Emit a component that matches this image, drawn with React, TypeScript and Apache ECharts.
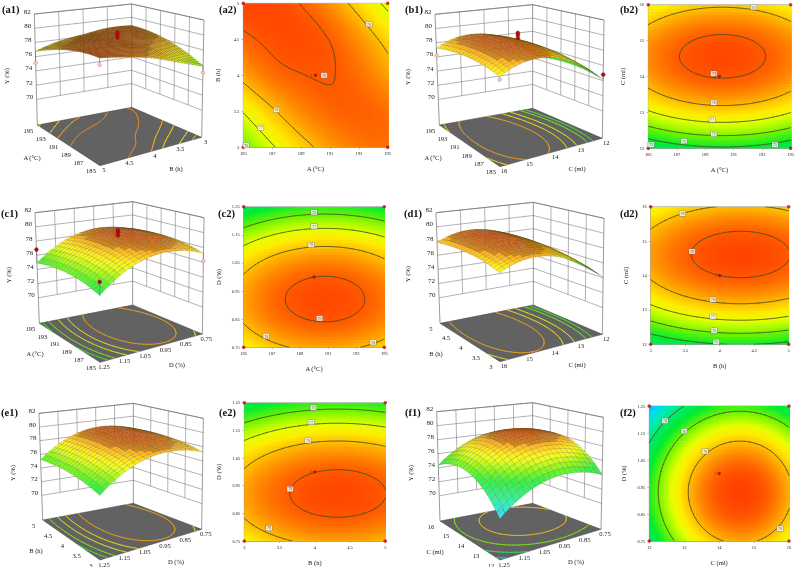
import React, { useEffect, useRef } from "react";
import * as echarts from "echarts";

const SERIF = "Liberation Serif";

const A_TICKS = [185, 187, 189, 191, 193, 195];
const B_TICKS = [3, 3.5, 4, 4.5, 5];
const C_TICKS = [12, 13, 14, 15, 16];
const D_TICKS = [0.75, 0.85, 0.95, 1.05, 1.15, 1.25];
const Z_TICKS = [70, 72, 74, 76, 78, 80, 82];

// Y (%) read at each tick crossing: one row per y-axis tick, one column per x-axis tick
const Y_A_B = [
  [75.85, 76.9, 77.7, 78.3, 78.65, 78.75],
  [77.05, 77.9, 78.5, 78.85, 78.93, 78.8],
  [78.2, 78.75, 78.98, 79.02, 78.8, 78.3],
  [78.87, 79.12, 79.2, 78.98, 78.45, 77.75],
  [79.3, 79.25, 78.97, 78.45, 77.7, 76.75],
];
const Y_A_C = [
  [74.15, 74.6, 74.84, 74.86, 74.67, 74.26],
  [76.9, 77.35, 77.59, 77.61, 77.42, 77.01],
  [78.31, 78.76, 79.0, 79.02, 78.83, 78.42],
  [78.39, 78.84, 79.08, 79.1, 78.91, 78.5],
  [77.14, 77.59, 77.83, 77.85, 77.66, 77.25],
];
const Y_A_D = [
  [77.22, 77.77, 78.09, 78.18, 78.04, 77.67],
  [78.09, 78.64, 78.96, 79.05, 78.91, 78.54],
  [78.24, 78.79, 79.11, 79.2, 79.06, 78.69],
  [77.69, 78.24, 78.56, 78.65, 78.51, 78.14],
  [76.43, 76.98, 77.3, 77.39, 77.25, 76.88],
  [74.45, 75.0, 75.32, 75.41, 75.27, 74.9],
];
const Y_B_C = [
  [74.07, 74.66, 74.97, 75.0, 74.75],
  [76.71, 77.3, 77.61, 77.64, 77.39],
  [78.1, 78.69, 79.0, 79.03, 78.78],
  [78.24, 78.83, 79.14, 79.17, 78.92],
  [77.12, 77.71, 78.02, 78.05, 77.8],
];
const Y_B_D = [
  [77.25, 77.85, 78.17, 78.21, 77.98],
  [78.1, 78.7, 79.02, 79.06, 78.83],
  [78.25, 78.85, 79.17, 79.21, 78.98],
  [77.71, 78.31, 78.63, 78.67, 78.44],
  [76.46, 77.06, 77.38, 77.42, 77.19],
  [74.51, 75.11, 75.43, 75.47, 75.24],
];
const Y_C_D = [
  [74.04, 76.59, 77.92, 78.04, 76.95],
  [74.99, 77.54, 78.87, 78.99, 77.9],
  [75.22, 77.77, 79.1, 79.22, 78.13],
  [74.7, 77.25, 78.58, 78.7, 77.61],
  [73.45, 76.0, 77.33, 77.45, 76.36],
  [71.46, 74.01, 75.34, 75.46, 74.37],
];

// contour levels on the 3D floors
const FLOOR_A_B = [78.8, 78.2, 77.7, 76.9, 76.3];
const FLOOR_A_C = [78.4, 77.6, 76.9, 75.9, 75.3];
const FLOOR_A_D = [78.4, 77.6, 76.9, 76, 75.3];
const FLOOR_B_C = [78.4, 77.6, 76.9, 75.9, 75.3];
const FLOOR_B_D = [78.4, 77.6, 76.9, 76, 75.3];
const FLOOR_C_D = [78, 76, 74, 72.2];

// contour labels: [x, y, level]
const LABELS_A_B = [[190.6, 4, 79], [187.3, 3.52, 78], [193.7, 4.71, 78], [186.2, 3.27, 77], [185.2, 3.03, 76]];
const LABELS_A_C = [[189.6, 14.08, 79], [189.6, 13.27, 78], [192.4, 15.93, 78], [189.5, 12.8, 77], [189.6, 12.4, 76], [187.5, 12.2, 75], [193.9, 12.1, 75], [185.2, 12.1, 75]];
const LABELS_A_D = [[190, 1.23, 76], [190, 1.18, 77], [189.8, 1.114, 78], [190.4, 0.853, 79], [186.6, 0.79, 78], [194.2, 0.768, 78]];
const LABELS_B_C = [[3.46, 15.8, 78], [3.6, 14.7, 79], [3.9, 13.3, 78], [3.9, 12.8, 77], [3.92, 12.4, 76], [3.95, 12.07, 75]];
const LABELS_B_D = [[3.98, 1.232, 76], [3.95, 1.18, 77], [3.9, 1.113, 78], [3.65, 0.938, 79], [3.35, 0.797, 78]];
const LABELS_C_D = [[12.45, 1.195, 74], [13, 1.157, 76], [13.6, 1.082, 78], [15.74, 0.796, 78]];

// design points seen on the 3D plots: [x, y, z, hollow]
const POINTS_A_B = [[195, 5, 75.1, 1], [185, 5, 78.5, 1], [185, 3, 75.0, 1], [190, 4, 79.4, 0], [190, 4, 79.8, 0], [190, 4, 80.1, 0]];
const POINTS_A_C = [[195, 16, 76.2, 1], [185, 16, 76.8, 1], [185, 12, 74.8, 0], [190, 14, 79.4, 0], [190, 14, 79.8, 0], [190, 14, 80.1, 0]];
const POINTS_A_D = [[195, 1.25, 76.8, 0], [185, 1.25, 76.1, 0], [185, 0.75, 76.2, 1], [190, 1, 79.4, 0], [190, 1, 79.8, 0], [190, 1, 80.1, 0]];

const PANELS: any[] = [
  {
    id: "a", xName: "A (°C)", yName: "B (h)", xTicks: A_TICKS, yTicks: B_TICKS, rows: Y_A_B, levels: [79, 78, 77, 76], floorLevels: FLOOR_A_B, labels: LABELS_A_B, center: [190, 4], points: POINTS_A_B, mesh: 30,
    rect: [243.3, 3.3, 144.4, 144],
    box: { ox: 0, oy: 0, L: [112, 375], F: [300, 497], R: [605, 412], B: [395, 322], TL: [103, 42], TB: [395, 12], TR: [612, 60] },
    titles: { x: [32, 157], y: [176, 168], z: [6, 76], l3: [2, 9], l2: [219, 9] },
  },
  {
    id: "b", xName: "A (°C)", yName: "C (ml)", xTicks: A_TICKS, yTicks: C_TICKS, rows: Y_A_C, levels: [79, 78, 77, 76, 75], floorLevels: FLOOR_A_C, labels: LABELS_A_C, center: [190, 14], points: POINTS_A_C, mesh: 20,
    rect: [648.3, 4.7, 143.7, 143.6],
    box: { ox: 400, oy: 0, L: [118, 375], F: [300, 500], R: [607, 415], B: [398, 325], TL: [105, 43], TB: [398, 14], TR: [612, 60] },
    titles: { x: [433, 157], y: [577, 168], z: [407, 77], l3: [405, 9], l2: [620, 9] },
  },
  {
    id: "c", xName: "A (°C)", yName: "D (%)", xTicks: A_TICKS, yTicks: D_TICKS, rows: Y_A_D, levels: [79, 78, 77, 76], floorLevels: FLOOR_A_D, labels: LABELS_A_D, center: [190, 1], points: POINTS_A_D, mesh: 20,
    rect: [243.7, 206.7, 140.6, 140.6],
    box: { ox: 0, oy: 190, L: [118, 400], F: [300, 517], R: [607, 432], B: [398, 345], TL: [105, 68], TB: [398, 35], TR: [612, 83] },
    titles: { x: [35, 353], y: [177, 364], z: [8, 275], l3: [1, 213], l2: [218, 213] },
  },
  {
    id: "d", xName: "B (h)", yName: "C (ml)", xTicks: B_TICKS, yTicks: C_TICKS, rows: Y_B_C, levels: [79, 78, 77, 76, 75], floorLevels: FLOOR_B_C, labels: LABELS_B_C, center: [4, 14], points: [], mesh: 20,
    rect: [650.7, 206.7, 138, 137.6],
    box: { ox: 400, oy: 190, L: [120, 400], F: [300, 515], R: [607, 433], B: [400, 345], TL: [108, 68], TB: [400, 37], TR: [612, 85] },
    titles: { x: [436, 353], y: [577, 364], z: [407, 274], l3: [404, 213], l2: [620, 213] },
  },
  {
    id: "e", xName: "B (h)", yName: "D (%)", xTicks: B_TICKS, yTicks: D_TICKS, rows: Y_B_D, levels: [79, 78, 77, 76], floorLevels: FLOOR_B_D, labels: LABELS_B_D, center: [4, 1], points: [], mesh: 20,
    rect: [244.3, 402.7, 141, 140.6],
    box: { ox: 0, oy: 375, L: [128, 435], F: [300, 555], R: [605, 463], B: [400, 385], TL: [117, 115], TB: [400, 85], TR: [610, 130] },
    titles: { x: [36, 550], y: [176, 561], z: [12, 473], l3: [1, 412], l2: [219, 412] },
  },
  {
    id: "f", xName: "C (ml)", yName: "D (%)", xTicks: C_TICKS, yTicks: D_TICKS, rows: Y_C_D, levels: [78, 76, 74], floorLevels: FLOOR_C_D, labels: LABELS_C_D, center: [14, 1], points: [], mesh: 20,
    rect: [649.3, 406, 139.7, 139],
    box: { ox: 400, oy: 375, L: [120, 438], F: [300, 555], R: [603, 463], B: [398, 385], TL: [110, 110], TB: [398, 83], TR: [610, 127] },
    titles: { x: [435, 551], y: [576, 561], z: [410, 473], l3: [405, 412], l2: [620, 412] },
  },
];

const COLOR_STOPS: number[][] = [
  [70, 0, 60, 255], [71, 0, 130, 255], [72, 0, 210, 255], [73, 0, 235, 190], [74, 0, 235, 110], [75, 0, 235, 50],
  [76, 110, 245, 0], [77, 230, 255, 0], [77.5, 255, 235, 0], [78, 255, 190, 0], [78.6, 255, 130, 0], [79, 255, 90, 0], [79.4, 255, 60, 0],
];

function rgbOf(v: number) {
  const s = COLOR_STOPS;
  if (v <= s[0][0]) return s[0].slice(1);
  for (let i = 1; i < s.length; i++) {
    if (v <= s[i][0]) {
      const f = (v - s[i - 1][0]) / (s[i][0] - s[i - 1][0]);
      return [1, 2, 3].map((k) => s[i - 1][k] + (s[i][k] - s[i - 1][k]) * f);
    }
  }
  return s[s.length - 1].slice(1);
}
const css = (c: number[]) => `rgb(${Math.round(c[0])},${Math.round(c[1])},${Math.round(c[2])})`;
const heatColor = (v: number) => css(rgbOf(v));
const litColor = (v: number) => {
  const c = rgbOf(v);
  const m = v > 78.4 ? 0.82 : 1;
  return css([(c[0] * 0.78 + 255 * 0.22) * m, (c[1] * 0.78 + 255 * 0.22) * m, (c[2] * 0.78 + 150 * 0.22) * m]);
};

// smooth shading between the read nodes
function spline(p: number[], t: number) {
  const n = p.length;
  const i = Math.min(Math.floor(t), n - 2);
  const f = t - i;
  const at = (k: number) => (k < 0 ? 3 * p[0] - 3 * p[1] + p[2] : k >= n ? 3 * p[n - 1] - 3 * p[n - 2] + p[n - 3] : p[k]);
  const a = at(i - 1), b = at(i), c = at(i + 1), d = at(i + 2);
  return 0.5 * (2 * b + (c - a) * f + (2 * a - 5 * b + 4 * c - d) * f * f + (3 * b - a - 3 * c + d) * f * f * f);
}
function fieldAt(rows: number[][], fx: number, fy: number) {
  const col = rows.map((r) => spline(r, fx * (r.length - 1)));
  return spline(col, fy * (rows.length - 1));
}
const span = (t: number[]) => [t[0], t[t.length - 1]];
const lerp = (a: number, b: number, f: number) => a + (b - a) * f;

function contourSegments(panel: any, level: number, n: number) {
  const [x0, x1] = span(panel.xTicks);
  const [y0, y1] = span(panel.yTicks);
  const val: number[][] = [];
  for (let j = 0; j <= n; j++) {
    const r: number[] = [];
    for (let i = 0; i <= n; i++) r.push(fieldAt(panel.rows, i / n, j / n));
    val.push(r);
  }
  const segs: number[][] = [];
  const X = (f: number) => lerp(x0, x1, f / n);
  const Y = (f: number) => lerp(y0, y1, f / n);
  for (let j = 0; j < n; j++) {
    for (let i = 0; i < n; i++) {
      const a = val[j][i], b = val[j][i + 1], c = val[j + 1][i + 1], d = val[j + 1][i];
      const pts: number[][] = [];
      if (a < level !== b < level) pts.push([X(i + (level - a) / (b - a)), Y(j)]);
      if (b < level !== c < level) pts.push([X(i + 1), Y(j + (level - b) / (c - b))]);
      if (d < level !== c < level) pts.push([X(i + (level - d) / (c - d)), Y(j + 1)]);
      if (a < level !== d < level) pts.push([X(i), Y(j + (level - a) / (d - a))]);
      if (pts.length >= 2) segs.push([pts[0][0], pts[0][1], pts[1][0], pts[1][1]]);
      if (pts.length === 4) segs.push([pts[2][0], pts[2][1], pts[3][0], pts[3][1]]);
    }
  }
  return segs;
}

const Z_FLOOR = 66.4;
const Z_TOP = 82;

function makeProjection(panel: any) {
  const b = panel.box;
  const c = (p: number[]) => [b.ox + p[0] / 3, b.oy + p[1] / 3];
  const L = c(b.L), F = c(b.F), R = c(b.R), B = c(b.B), TL = c(b.TL), TB = c(b.TB), TR = c(b.TR);
  const hf = (((L[1] - TL[1]) + (R[1] - TR[1])) / 2) * 1.14;
  const TF = [F[0] - 0.5, F[1] - hf];
  const bil = (pF: number[], pL: number[], pR: number[], pB: number[], s: number, t: number, k: number) =>
    pF[k] * (1 - s) * (1 - t) + pL[k] * s * (1 - t) + pR[k] * (1 - s) * t + pB[k] * s * t;
  const [x0, x1] = span(panel.xTicks);
  const [y0, y1] = span(panel.yTicks);
  return (x: number, y: number, z: number) => {
    const s = (x - x0) / (x1 - x0);
    const t = (y1 - y) / (y1 - y0);
    const h = (z - Z_FLOOR) / (Z_TOP - Z_FLOOR);
    return [0, 1].map((k) => lerp(bil(F, L, R, B, s, t, k), bil(TF, TL, TR, TB, s, t, k), h));
  };
}

const fmtTick = (v: number) => (Math.abs(v) < 2 ? v.toFixed(2) : String(v));

function buildOption() {
  const grid: any[] = [], xAxis: any[] = [], yAxis: any[] = [], series: any[] = [], graphic: any[] = [];
  PANELS.forEach((panel, idx) => {
    const [gx, gy, gw, gh] = panel.rect;
    const [x0, x1] = span(panel.xTicks);
    const [y0, y1] = span(panel.yTicks);
    grid.push({ left: gx, top: gy, width: gw, height: gh, show: true, borderColor: "#9a9a9a", borderWidth: 0.7, backgroundColor: "#fff" });
    const axisCommon = (ticks: number[], name: string, gap: number, rot: number) => ({
      type: "value", gridIndex: idx, name, nameLocation: "middle", nameGap: gap, nameRotate: rot,
      nameTextStyle: { fontFamily: SERIF, fontSize: 6.5, color: "#222" },
      min: ticks[0], max: ticks[ticks.length - 1], splitLine: { show: false },
      axisLine: { lineStyle: { color: "#888", width: 0.6 } },
      axisTick: { show: true, length: 2, lineStyle: { color: "#888", width: 0.5 }, customValues: ticks },
      axisLabel: { fontFamily: SERIF, fontSize: 4.5, color: "#222", margin: 4, customValues: ticks, formatter: (v: number) => fmtTick(v) },
    });
    xAxis.push(axisCommon(panel.xTicks, panel.xName, 18, 0));
    yAxis.push(axisCommon(panel.yTicks, panel.yName, 22, 90));

    // --- contour plot: heat cells
    const n = 48;
    const cells: number[][] = [];
    for (let j = 0; j < n; j++) {
      for (let i = 0; i < n; i++) {
        cells.push([lerp(x0, x1, i / n), lerp(x0, x1, (i + 1) / n), lerp(y0, y1, j / n), lerp(y0, y1, (j + 1) / n), fieldAt(panel.rows, (i + 0.5) / n, (j + 0.5) / n)]);
      }
    }
    series.push({
      type: "custom", xAxisIndex: idx, yAxisIndex: idx, coordinateSystem: "cartesian2d", silent: true, clip: true,
      encode: { x: [0, 1], y: [2, 3] }, data: cells,
      renderItem: (_: any, api: any) => {
        const p0 = api.coord([api.value(0), api.value(3)]);
        const p1 = api.coord([api.value(1), api.value(2)]);
        return { type: "rect", shape: { x: p0[0], y: p0[1], width: p1[0] - p0[0] + 1.2, height: p1[1] - p0[1] + 1.2 }, style: { fill: heatColor(api.value(4)) } };
      },
    });
    // --- contour lines
    const segs = panel.levels.flatMap((lv: number) => contourSegments(panel, lv, 60));
    series.push({
      type: "custom", xAxisIndex: idx, yAxisIndex: idx, coordinateSystem: "cartesian2d", silent: true, clip: true,
      encode: { x: [0, 2], y: [1, 3] }, data: segs,
      renderItem: (_: any, api: any) => {
        const a = api.coord([api.value(0), api.value(1)]);
        const b = api.coord([api.value(2), api.value(3)]);
        return { type: "line", shape: { x1: a[0], y1: a[1], x2: b[0], y2: b[1] }, style: { stroke: "#4a4a22", lineWidth: 0.7, lineCap: "round" } };
      },
    });
    // --- contour labels
    series.push({
      type: "scatter", xAxisIndex: idx, yAxisIndex: idx, silent: true, symbolSize: 0, data: panel.labels,
      label: { show: true, position: "inside", formatter: (p: any) => String(p.value[2]), fontFamily: SERIF, fontSize: 4, color: "#333", backgroundColor: "#fff", borderColor: "#666", borderWidth: 0.4, padding: [0.5, 1] },
    });
    // --- design points
    const corners = [[x0, y0], [x0, y1], [x1, y0], [x1, y1]];
    series.push({ type: "scatter", xAxisIndex: idx, yAxisIndex: idx, silent: true, symbolSize: 3.6, itemStyle: { color: "#c40b12" }, clip: false, data: corners });
    series.push({
      type: "scatter", xAxisIndex: idx, yAxisIndex: idx, silent: true, symbolSize: 3.4, itemStyle: { color: "#a50c10" }, data: [panel.center],
      label: { show: true, position: "left", distance: 1, formatter: "1", fontFamily: SERIF, fontSize: 4, color: "#333" },
    });

    // --- 3D panel
    const proj = makeProjection(panel);
    const wallLines: number[][] = [];
    for (const z of Z_TICKS) {
      wallLines.push([x1, y1, z, x1, y0, z, 0]);
      wallLines.push([x1, y0, z, x0, y0, z, 0]);
    }
    for (const y of panel.yTicks.slice(1, -1)) wallLines.push([x1, y, 70, x1, y, Z_TOP, 0]);
    for (const x of panel.xTicks.slice(1, -1)) wallLines.push([x, y0, 70, x, y0, Z_TOP, 0]);
    for (const [x, y] of [[x1, y1], [x1, y0], [x0, y0]]) wallLines.push([x, y, Z_FLOOR, x, y, Z_TOP, 1]);
    wallLines.push([x1, y1, Z_TOP, x1, y0, Z_TOP, 1]);
    wallLines.push([x1, y0, Z_TOP, x0, y0, Z_TOP, 1]);
    const lineStyles = [{ stroke: "#808080", lineWidth: 0.6 }, { stroke: "#707070", lineWidth: 0.7 }];
    series.push({
      type: "custom", coordinateSystem: "none", silent: true, data: wallLines,
      renderItem: (_: any, api: any) => {
        const a = proj(api.value(0), api.value(1), api.value(2));
        const b = proj(api.value(3), api.value(4), api.value(5));
        return { type: "line", shape: { x1: a[0], y1: a[1], x2: b[0], y2: b[1] }, style: lineStyles[api.value(6)] };
      },
    });
    // floor
    series.push({
      type: "custom", coordinateSystem: "none", silent: true, data: [[x0, y1, x1, y1, x1, y0, x0, y0]],
      renderItem: (_: any, api: any) => {
        const pts = [0, 2, 4, 6].map((k) => proj(api.value(k), api.value(k + 1), Z_FLOOR));
        return { type: "polygon", shape: { points: pts }, style: { fill: "#626262", stroke: "#444", lineWidth: 0.5 } };
      },
    });
    // floor contours
    const floorSegs = panel.floorLevels.flatMap((lv: number) => contourSegments(panel, lv, 40).map((s) => [...s, lv]));
    series.push({
      type: "custom", coordinateSystem: "none", silent: true, data: floorSegs,
      renderItem: (_: any, api: any) => {
        const a = proj(api.value(0), api.value(1), Z_FLOOR);
        const b = proj(api.value(2), api.value(3), Z_FLOOR);
        const c = rgbOf(api.value(4));
        return { type: "line", shape: { x1: a[0], y1: a[1], x2: b[0], y2: b[1] }, style: { stroke: css([c[0] * 0.7 + 50, c[1] * 0.7 + 50, c[2] * 0.7 + 30]), lineWidth: 0.9, lineCap: "round" } };
      },
    });
    // surface, drawn from the far corner to the near one
    const m = panel.mesh;
    const quads: number[][] = [];
    const at = (fx: number, fy: number) => [lerp(x0, x1, fx), lerp(y0, y1, fy), fieldAt(panel.rows, fx, fy)];
    for (let j = 0; j < m; j++) {
      for (let i = 0; i < m; i++) {
        const q = [at(i / m, j / m), at((i + 1) / m, j / m), at((i + 1) / m, (j + 1) / m), at(i / m, (j + 1) / m)];
        const zAvg = (q[0][2] + q[1][2] + q[2][2] + q[3][2]) / 4;
        quads.push([...q.flat(), zAvg, (i + 0.5) / m + 1 - (j + 0.5) / m]);
      }
    }
    quads.sort((a, b) => b[13] - a[13]);
    const meshStroke = panel.id === "a" ? "rgba(50,35,0,0.62)" : "rgba(70,50,10,0.42)";
    series.push({
      type: "custom", coordinateSystem: "none", silent: true, data: quads,
      renderItem: (_: any, api: any) => {
        const pts = [0, 3, 6, 9].map((k) => proj(api.value(k), api.value(k + 1), api.value(k + 2)));
        return { type: "polygon", shape: { points: pts }, style: { fill: litColor(api.value(12)), stroke: meshStroke, lineWidth: 0.35 } };
      },
    });
    // design points with stems
    if (panel.points.length) {
      const stems = panel.points.map((p: number[]) => {
        const fx = (p[0] - x0) / (x1 - x0), fy = (p[1] - y0) / (y1 - y0);
        return [p[0], p[1], fieldAt(panel.rows, fx, fy), p[2]];
      });
      series.push({
        type: "custom", coordinateSystem: "none", silent: true, data: stems,
        renderItem: (_: any, api: any) => {
          const a = proj(api.value(0), api.value(1), api.value(2));
          const b = proj(api.value(0), api.value(1), api.value(3));
          return { type: "line", shape: { x1: a[0], y1: a[1], x2: b[0], y2: b[1] }, style: { stroke: "#777", lineWidth: 0.7 } };
        },
      });
      series.push({
        type: "custom", coordinateSystem: "none", silent: true, data: panel.points,
        renderItem: (_: any, api: any) => {
          const a = proj(api.value(0), api.value(1), api.value(2));
          const hollow = api.value(3) === 1;
          return { type: "circle", shape: { cx: a[0], cy: a[1], r: 1.9 }, style: { fill: hollow ? "#f6c9c6" : "#b30c12", stroke: hollow ? "#c98080" : "#8a0a0e", lineWidth: 0.5 } };
        },
      });
    }

    // --- 3D panel texts
    const text = (t: string, x: number, y: number, size: number, extra: any = {}) =>
      graphic.push({
        type: "text", x, y, silent: true, z: 100, rotation: extra.rotation || 0,
        style: { text: t, fontFamily: SERIF, fontSize: size, fontWeight: extra.weight || "normal", fill: extra.fill || "#222", align: extra.align || "center", verticalAlign: "middle" },
      });
    for (const x of panel.xTicks) {
      const p = proj(x, y1, Z_FLOOR);
      text(fmtTick(x), p[0] - 9, p[1] + 5, 6.6);
    }
    for (const y of panel.yTicks) {
      const p = proj(x0, y, Z_FLOOR);
      text(fmtTick(y), p[0] + 4, p[1] + 4, 6.6);
    }
    for (const z of Z_TICKS) {
      const p = proj(x1, y1, z);
      text(String(z), p[0] - 7, p[1] - 2.5, 7);
    }
    const tt = panel.titles;
    text(panel.xName, tt.x[0], tt.x[1], 6.5);
    text(panel.yName, tt.y[0], tt.y[1], 6.5);
    text("Y (%)", tt.z[0], tt.z[1], 6.5, { rotation: Math.PI / 2 });
    text(`(${panel.id}1)`, tt.l3[0], tt.l3[1], 10.5, { weight: "bold", align: "left", fill: "#111" });
    text(`(${panel.id}2)`, tt.l2[0], tt.l2[1], 10.5, { weight: "bold", align: "left", fill: "#111" });
  });
  return { animation: false, backgroundColor: "#fff", tooltip: { show: false }, grid, xAxis, yAxis, series, graphic };
}

export default function App() {
  const ref = useRef<HTMLDivElement>(null);
  useEffect(() => {
    const chart = echarts.init(ref.current!, undefined, { renderer: "svg" });
    chart.setOption(buildOption() as any);
    return () => chart.dispose();
  }, []);
  return (
    <div style={{ position: "fixed", left: 0, top: 0, width: 797, height: 567, overflow: "hidden", filter: "blur(0.35px)" }}>
      <div ref={ref} style={{ width: 797, height: 567 }} />
    </div>
  );
}
